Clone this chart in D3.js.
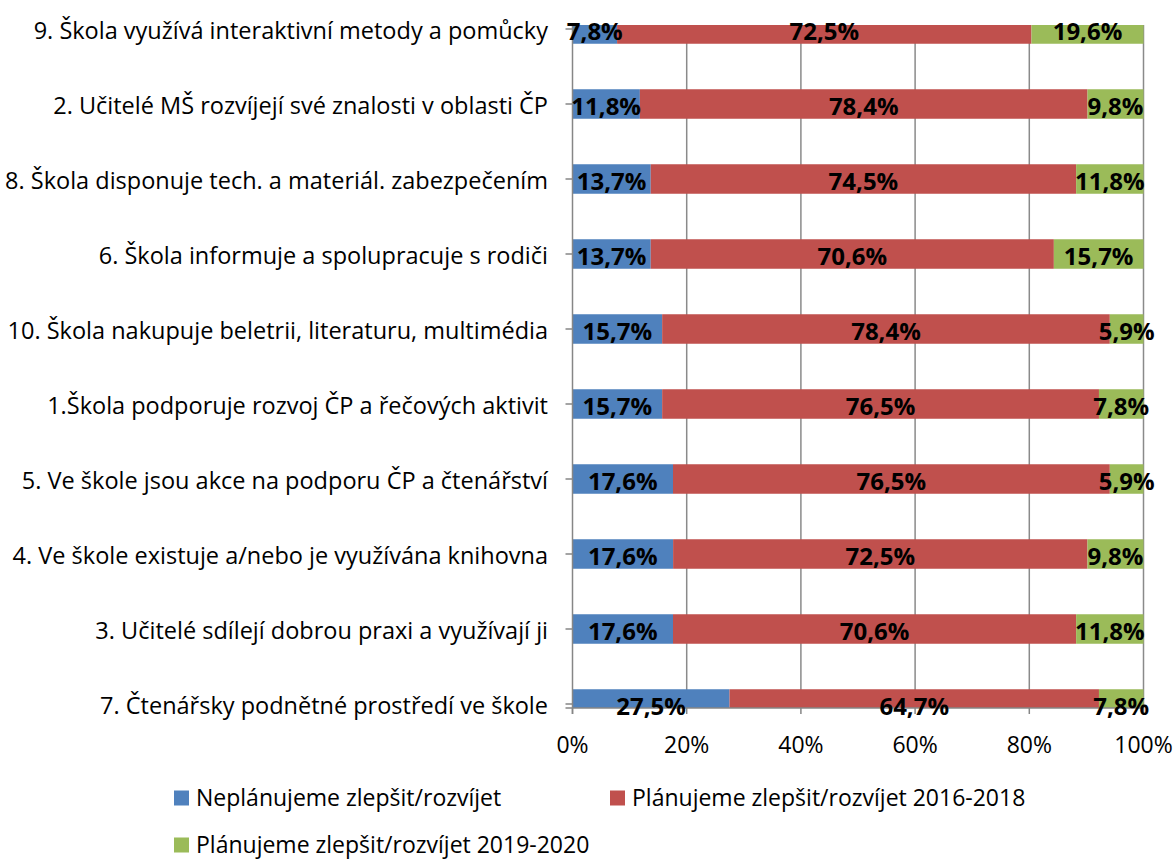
<!DOCTYPE html>
<html>
<head>
<meta charset="utf-8">
<script src="https://cdn.jsdelivr.net/npm/d3@7/dist/d3.min.js"></script>
<style>
  body { margin: 0; background: #fff; }
  text { font-family: "Open Sans", sans-serif; fill: #000; }
</style>
</head>
<body>
<div id="chart"></div>
<script>
// 1: DATA (top bar first)
const categories = [
    "9. Škola využívá interaktivní metody a pomůcky",
    "2. Učitelé MŠ rozvíjejí své znalosti v oblasti ČP",
    "8. Škola disponuje tech. a materiál. zabezpečením",
    "6. Škola informuje a spolupracuje s rodiči",
    "10. Škola nakupuje beletrii, literaturu, multimédia",
    "1.Škola podporuje rozvoj ČP a řečových aktivit",
    "5. Ve škole jsou akce na podporu ČP a čtenářství",
    "4. Ve škole existuje a/nebo je využívána knihovna",
    "3. Učitelé sdílejí dobrou praxi a využívají ji",
    "7. Čtenářsky podnětné prostředí ve škole"
];
const notPlanned   = [7.8, 11.8, 13.7, 13.7, 15.7, 15.7, 17.6, 17.6, 17.6, 27.5];
const planned16_18 = [72.5, 78.4, 74.5, 70.6, 78.4, 76.5, 76.5, 72.5, 70.6, 64.7];
const planned19_20 = [19.6, 9.8, 11.8, 15.7, 5.9, 7.8, 5.9, 9.8, 11.8, 7.8];
const seriesNames = [
    "Neplánujeme zlepšit/rozvíjet",
    "Plánujeme zlepšit/rozvíjet 2016-2018",
    "Plánujeme zlepšit/rozvíjet 2019-2020"
];
const xTicks = [0, 0.2, 0.4, 0.6, 0.8, 1];

const colors = ["#4F81BD", "#C0504D", "#9BBB59"];
const keys = ["a", "b", "c"];

// 2: LAYOUT
const W = 1176, H = 859;
const plot = { left: 572.5, right: 1143.5, top: 25, bottom: 708 };
const barH = 29.5;
const fontSize = "23px";

const svg = d3.select("#chart").append("svg")
    .attr("width", W)
    .attr("height", H);

const rows = categories.map((c, i) => ({
    cat: c, a: notPlanned[i], b: planned16_18[i], c: planned19_20[i]
}));

const stacked = d3.stack().keys(keys).offset(d3.stackOffsetExpand)(rows);

// 3: SCALES
const xScale = d3.scaleLinear().domain([0, 1]).range([plot.left, plot.right]);
const yScale = d3.scalePoint().domain(categories).range([29, 704]);

const fmt = v => v.toFixed(1).replace(".", ",") + "%";

// clip for the plot area (first and last bar are cut at the edges)
svg.append("clipPath").attr("id", "plotClip")
    .append("rect")
    .attr("x", plot.left).attr("y", plot.top)
    .attr("width", plot.right - plot.left + 1)
    .attr("height", plot.bottom - plot.top);

// 4: GRIDLINES
svg.append("g")
    .selectAll("line")
    .data(xTicks.slice(1))
    .join("line")
    .attr("x1", d => xScale(d)).attr("x2", d => xScale(d))
    .attr("y1", plot.top).attr("y2", plot.bottom)
    .attr("stroke", "#8a8a8a")
    .attr("stroke-width", 1.5);

// 5: BARS
svg.append("g").attr("clip-path", "url(#plotClip)")
    .selectAll("g")
    .data(stacked)
    .join("g")
    .attr("fill", (d, i) => colors[i])
    .selectAll("rect")
    .data(d => d)
    .join("rect")
    .attr("x", d => xScale(d[0]))
    .attr("width", d => xScale(d[1]) - xScale(d[0]))
    .attr("y", d => yScale(d.data.cat) - barH / 2)
    .attr("height", barH);

// 6: AXES
const axisColor = "#868686";
svg.append("line")
    .attr("x1", plot.left).attr("x2", plot.left)
    .attr("y1", plot.top - 2).attr("y2", plot.bottom + 6)
    .attr("stroke", axisColor).attr("stroke-width", 1.5);
svg.append("line")
    .attr("x1", plot.left - 7).attr("x2", plot.right)
    .attr("y1", plot.bottom).attr("y2", plot.bottom)
    .attr("stroke", axisColor).attr("stroke-width", 1.5);

// category ticks and labels
svg.append("g")
    .selectAll("line")
    .data(categories)
    .join("line")
    .attr("x1", plot.left - 7).attr("x2", plot.left)
    .attr("y1", d => yScale(d)).attr("y2", d => yScale(d))
    .attr("stroke", axisColor).attr("stroke-width", 1.5);

svg.append("g")
    .selectAll("text")
    .data(categories)
    .join("text")
    .attr("x", 548)
    .attr("y", d => yScale(d) + 2)
    .attr("dy", "0.35em")
    .attr("text-anchor", "end")
    .style("font-size", "23.5px")
    .text(d => d);

// percent ticks and labels
svg.append("g")
    .selectAll("line")
    .data(xTicks)
    .join("line")
    .attr("x1", d => xScale(d)).attr("x2", d => xScale(d))
    .attr("y1", plot.bottom).attr("y2", plot.bottom + 6)
    .attr("stroke", axisColor).attr("stroke-width", 1.5);

svg.append("g")
    .selectAll("text")
    .data(xTicks)
    .join("text")
    .attr("x", d => xScale(d))
    .attr("y", 745)
    .attr("dy", "0.35em")
    .attr("text-anchor", "middle")
    .style("font-size", fontSize)
    .text(d => Math.round(d * 100) + "%");

// 7: DATA LABELS
const rawValues = [notPlanned, planned16_18, planned19_20];
stacked.forEach((s, si) => {
    svg.append("g")
        .selectAll("text")
        .data(s)
        .join("text")
        .attr("x", d => xScale((d[0] + d[1]) / 2))
        .attr("y", d => yScale(d.data.cat) + 3)
        .attr("dy", "0.35em")
        .attr("text-anchor", "middle")
        .style("font-size", "24px")
        .style("font-weight", "bold")
        .text((d, i) => fmt(rawValues[si][i]));
});

// 8: LEGEND
const legendPos = [
    { x: 174, y: 798 },
    { x: 610, y: 798 },
    { x: 174, y: 845 }
];
const legend = svg.append("g")
    .selectAll("g")
    .data(seriesNames)
    .join("g")
    .attr("transform", (d, i) => `translate(${legendPos[i].x},${legendPos[i].y})`);

legend.append("rect")
    .attr("x", 0).attr("y", -7.5)
    .attr("width", 15).attr("height", 15)
    .attr("fill", (d, i) => colors[i]);

legend.append("text")
    .attr("x", 22)
    .attr("dy", "0.35em")
    .style("font-size", fontSize)
    .text(d => d);
</script>
</body>
</html>
